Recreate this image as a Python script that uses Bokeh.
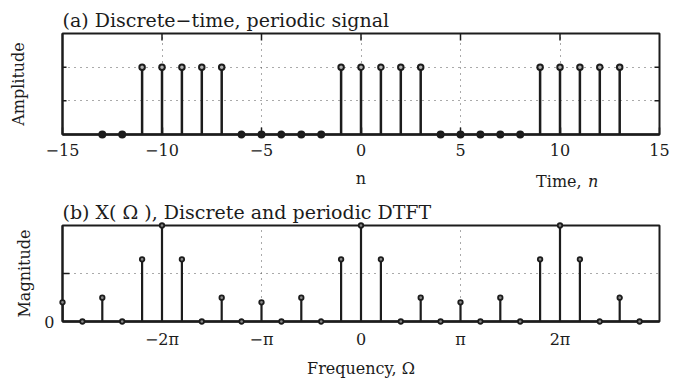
import math
from bokeh.plotting import figure
from bokeh.layouts import column
from bokeh.models import Range1d, FixedTicker, ColumnDataSource
from bokeh.core.properties import value
from bokeh.embed import file_html
from bokeh.resources import INLINE

# ---------------- data ----------------
# (a) discrete-time periodic signal
n_vals = [-13, -12, -11, -10, -9, -8, -7, -6, -5, -4, -3, -2, -1, 0, 1, 2, 3,
          4, 5, 6, 7, 8, 9, 10, 11, 12, 13]
x_vals = [0, 0, 1, 1, 1, 1, 1, 0, 0, 0, 0, 0, 1, 1, 1, 1, 1,
          0, 0, 0, 0, 0, 1, 1, 1, 1, 1]
a_xticks = [-15, -10, -5, 0, 5, 10, 15]
a_xlabels = ["\u221215", "\u221210", "\u22125", "0", "5", "10", "15"]
a_grid_x = [-10, -5, 0, 5, 10]
a_grid_y = [0.5, 1.0]

# (b) DTFT magnitude, bins k -> Omega = k*pi/5
k_vals = [-15, -14, -13, -12, -11, -10, -9, -8, -7, -6, -5, -4, -3, -2, -1,
          0, 1, 2, 3, 4, 5, 6, 7, 8, 9, 10, 11, 12, 13, 14]
mag_vals = [1.00, 0, 1.24, 0, 3.24, 5.00, 3.24, 0, 1.24, 0,
            1.00, 0, 1.24, 0, 3.24, 5.00, 3.24, 0, 1.24, 0,
            1.00, 0, 1.24, 0, 3.24, 5.00, 3.24, 0, 1.24, 0]
b_xtick_mult = [-2, -1, 0, 1, 2]
b_xlabels = ["\u22122\u03c0", "\u2212\u03c0", "0", "\u03c0", "2\u03c0"]
b_grid_y = [2.5, 5.0]

FONT = "DejaVu Serif"
INK = "#1c1c1c"
GRID = "#555555"
W, H = 680, 190
ML, MR = 62, 21


def base_style(p):
    p.outline_line_color = INK
    p.outline_line_width = 2
    p.background_fill_color = "white"
    p.border_fill_color = "white"
    p.title.text_font = FONT
    p.title.text_font_size = "19px"
    p.title.text_font_style = "normal"
    p.title.text_color = INK
    p.title.align = "left"
    p.title.offset = 0
    p.title.standoff = 5
    for ax in p.axis:
        ax.axis_label_text_font = FONT
        ax.axis_label_text_font_size = "16px"
        ax.axis_label_text_font_style = "normal"
        ax.axis_label_text_color = INK
        ax.major_label_text_font = FONT
        ax.major_label_text_font_size = "16px"
        ax.major_label_text_color = INK
        ax.minor_tick_line_color = None
        ax.major_tick_out = 0
        ax.major_tick_in = 0
        ax.major_tick_line_color = INK
        ax.major_tick_line_width = 1.5
        ax.axis_line_color = INK
        ax.axis_line_width = 2
    for g in p.grid:
        g.grid_line_color = GRID
        g.grid_line_dash = "1 5"
        g.grid_line_width = 1


# ---------------- panel (a) ----------------
a_top, a_bot = 33, 56
a_xr, a_yr = (-15, 15), (0, 1.5)
p1 = figure(width=W, height=H, x_range=Range1d(*a_xr), y_range=Range1d(*a_yr),
            output_backend="svg", toolbar_location=None,
            min_border_left=ML, min_border_right=MR, min_border_top=a_top,
            min_border_bottom=a_bot,
            title="(a) Discrete\u2212time, periodic signal")
base_style(p1)
xa = p1.xaxis[0]
xa.ticker = FixedTicker(ticks=a_xticks)
xa.major_label_overrides = dict(zip(a_xticks, a_xlabels))
xa.major_tick_in = 7
xa.major_label_standoff = 9
xa.axis_label = "n"
xa.axis_label_standoff = 10
xa.axis_line_width = 2.5
ya = p1.yaxis[0]
ya.ticker = FixedTicker(ticks=[])
ya.axis_label = "Amplitude"
ya.axis_label_standoff = 35
p1.xgrid.ticker = FixedTicker(ticks=a_grid_x)
p1.ygrid.ticker = FixedTicker(ticks=a_grid_y)

# inward tick marks (top edge, left and right edges)
a_ux = (a_xr[1] - a_xr[0]) / (W - ML - MR)   # data units per pixel
a_uy = (a_yr[1] - a_yr[0]) / (H - a_top - a_bot)
p1.segment(x0=a_grid_x, y0=[a_yr[1]] * len(a_grid_x), x1=a_grid_x,
           y1=[a_yr[1] - 7 * a_uy] * len(a_grid_x), line_color=INK, line_width=1.5)
p1.segment(x0=[a_xr[0]] * 2, y0=a_grid_y, x1=[a_xr[0] + 4 * a_ux] * 2, y1=a_grid_y,
           line_color=INK, line_width=1.5)
p1.segment(x0=[a_xr[1]] * 2, y0=a_grid_y, x1=[a_xr[1] - 5 * a_ux] * 2, y1=a_grid_y,
           line_color=INK, line_width=1.5)

src_a = ColumnDataSource(dict(n=n_vals, x=x_vals, y0=[0] * len(n_vals)))
p1.segment(x0="n", y0="y0", x1="n", y1="x", source=src_a, line_color=INK, line_width=2.5)
ones_n = [nv for nv, xv in zip(n_vals, x_vals) if xv != 0]
ones_x = [xv for xv in x_vals if xv != 0]
zeros_n = [nv for nv, xv in zip(n_vals, x_vals) if xv == 0]
zeros_x = [xv for xv in x_vals if xv == 0]
p1.scatter(zeros_n, zeros_x, size=6, marker="circle", fill_color=INK,
           line_color=INK, line_width=2, level="overlay")
p1.scatter(ones_n, ones_x, size=5.5, marker="circle", fill_color="#b0b0b0",
           line_color=INK, line_width=2, level="overlay")

# "Time, n" annotation below the axis, right side
p1.text(x=[8.8], y=[-47 * a_uy], text=["Time,"], text_font=value(FONT),
        text_font_size="16px", text_color=INK, text_baseline="alphabetic",
        text_align="left", level="overlay")
p1.text(x=[8.8], y=[-47 * a_uy], text=["n"], x_offset=52, text_font=value(FONT),
        text_font_size="16px", text_font_style="italic", text_color=INK,
        text_baseline="alphabetic", text_align="left", level="overlay")

# ---------------- panel (b) ----------------
b_top, b_bot = 35, 54
b_xr, b_yr = (-3 * math.pi, 3 * math.pi), (0, 5)
omega = [k * math.pi / 5 for k in k_vals]
b_xticks = [m * math.pi for m in b_xtick_mult]
p2 = figure(width=W, height=H, x_range=Range1d(*b_xr), y_range=Range1d(*b_yr),
            output_backend="svg", toolbar_location=None,
            min_border_left=ML, min_border_right=MR, min_border_top=b_top,
            min_border_bottom=b_bot,
            title="(b) X( \u03a9 ), Discrete and periodic DTFT")
base_style(p2)
xb = p2.xaxis[0]
xb.ticker = FixedTicker(ticks=b_xticks)
xb.major_label_overrides = dict(zip(b_xticks, b_xlabels))
xb.major_label_standoff = 8
xb.axis_label = "Frequency, \u03a9"
xb.axis_label_standoff = 7
xb.axis_line_width = 2.5
yb = p2.yaxis[0]
yb.ticker = FixedTicker(ticks=[0])
yb.major_label_standoff = 8
yb.axis_label = "Magnitude"
yb.axis_label_standoff = 7
p2.xgrid.ticker = FixedTicker(ticks=b_xticks)
p2.ygrid.ticker = FixedTicker(ticks=b_grid_y)

b_ux = (b_xr[1] - b_xr[0]) / (W - ML - MR)
p2.segment(x0=[b_xr[0]], y0=[b_grid_y[0]], x1=[b_xr[0] + 7 * b_ux], y1=[b_grid_y[0]],
           line_color=INK, line_width=1.5)

src_b = ColumnDataSource(dict(w=omega, m=mag_vals, y0=[0] * len(omega)))
p2.segment(x0="w", y0="y0", x1="w", y1="m", source=src_b, line_color=INK, line_width=2.2)
p2.scatter("w", "m", source=src_b, size=4.5, marker="circle", fill_color="#8a8a8a",
           line_color=INK, line_width=1.8, level="overlay")

layout = column(p1, p2)
open("out.html", "w").write(file_html(layout, INLINE))
